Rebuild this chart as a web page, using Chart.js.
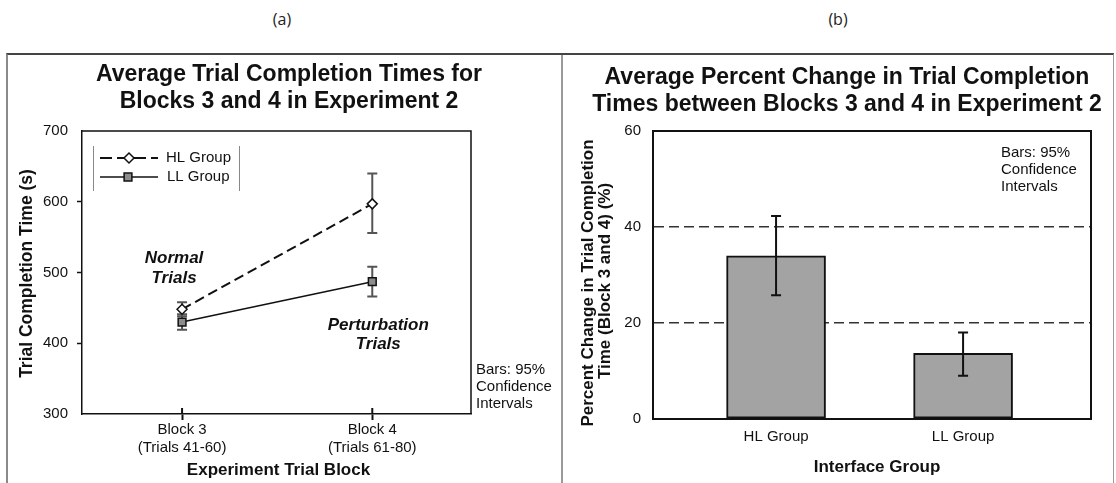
<!DOCTYPE html>
<html>
<head>
<meta charset="utf-8">
<script src="https://cdn.jsdelivr.net/npm/chart.js@4.4.1/dist/chart.umd.min.js"></script>
<style>
  body { margin: 0; background: #fff; width: 1116px; height: 483px; overflow: hidden; position: relative; }
  .tag { position: absolute; top: 8px; width: 40px; margin-left: -20px; text-align: center;
         font: 16px "Open Sans", sans-serif; color: #222; line-height: 22px; }
  #frame { position: absolute; left: 6px; top: 53px; width: 1105px; height: 440px;
           border-top: 2px solid #444; border-left: 2px solid #8a8a8a; border-right: 1px solid #999; }
  #sep { position: absolute; left: 561px; top: 55px; width: 2px; height: 440px; background: #9a9a9a; }
  canvas { position: absolute; }
</style>
</head>
<body>
<div class="tag" style="left:282px">(a)</div>
<div class="tag" style="left:838px">(b)</div>
<div id="frame"></div>
<div id="sep"></div>
<canvas id="times" width="553" height="428" style="left:8px; top:55px"></canvas>
<canvas id="change" width="548" height="428" style="left:564px; top:55px"></canvas>
<script>
// completion times per block (s), with 95% CI
var blockLabels = [['Block 3', '(Trials 41-60)'], ['Block 4', '(Trials 61-80)']];
var blockPos = [1, 2];
var hlTimes = [448, 597];
var hlLow = [438, 556];
var hlHigh = [458, 640];
var llTimes = [430, 487];
var llLow = [419, 466];
var llHigh = [441, 508];
var timeTicks = [300, 400, 500, 600, 700];

// percent change between blocks 3 and 4, with 95% CI
var groupLabels = ['HL Group', 'LL Group'];
var groupPos = [1, 2];
var pctChange = [34.0, 13.7];
var pctLow = [25.8, 9.0];
var pctHigh = [42.3, 18.0];
var pctTicks = [0, 20, 40, 60];

var FONT = '"Liberation Sans", Arial, sans-serif';
var INK = '#111';
Chart.defaults.font.family = FONT;
Chart.defaults.color = INK;

function text(ctx, str, x, y, font, align) {
    ctx.font = font;
    ctx.textAlign = align || 'center';
    ctx.textBaseline = 'middle';
    ctx.fillStyle = INK;
    ctx.fillText(str, x, y);
}

function vtext(ctx, str, x, y, font) {
    ctx.save();
    ctx.translate(x, y);
    ctx.rotate(-Math.PI / 2);
    text(ctx, str, 0, 0, font);
    ctx.restore();
}

function errBars(chart, xs, lows, highs, color, cap) {
    var ctx = chart.ctx, sx = chart.scales.x, sy = chart.scales.y;
    ctx.save();
    ctx.strokeStyle = color;
    ctx.lineWidth = 2;
    xs.forEach(function(v, i) {
        var px = sx.getPixelForValue(v);
        var top = sy.getPixelForValue(highs[i]);
        var bot = sy.getPixelForValue(lows[i]);
        ctx.beginPath();
        ctx.moveTo(px, top); ctx.lineTo(px, bot);
        ctx.moveTo(px - cap, top); ctx.lineTo(px + cap, top);
        ctx.moveTo(px - cap, bot); ctx.lineTo(px + cap, bot);
        ctx.stroke();
    });
    ctx.restore();
}

function boxEdges(chart, w) {
    var ctx = chart.ctx, ca = chart.chartArea;
    ctx.save();
    ctx.strokeStyle = INK;
    ctx.lineWidth = w;
    ctx.beginPath();
    ctx.moveTo(ca.left, ca.top); ctx.lineTo(ca.right, ca.top); ctx.lineTo(ca.right, ca.bottom);
    ctx.stroke();
    ctx.restore();
}

var fixedTicks = function(list) {
    return function(scale) { scale.ticks = list.map(function(v) { return {value: v}; }); };
};

var hlStyle = {pointStyle: 'rectRot', radius: 5, borderWidth: 1.5};
var llStyle = {pointStyle: 'rect', radius: 5.5, borderWidth: 1.5};

// ---- (a) line chart ----
new Chart(document.getElementById('times'), {
    type: 'line',
    data: {
        datasets: [
            {
                label: 'LL Group',
                data: blockPos.map(function(b, i) { return {x: b, y: llTimes[i]}; }),
                borderColor: INK, borderWidth: 1.5,
                pointStyle: llStyle.pointStyle, pointRadius: llStyle.radius,
                pointBackgroundColor: '#8c8c8c', pointBorderColor: INK, pointBorderWidth: 1.5,
                order: 0
            },
            {
                label: 'HL Group',
                data: blockPos.map(function(b, i) { return {x: b, y: hlTimes[i]}; }),
                borderColor: INK, borderWidth: 2, borderDash: [10, 5],
                pointStyle: hlStyle.pointStyle, pointRadius: hlStyle.radius,
                pointBackgroundColor: '#fff', pointBorderColor: INK, pointBorderWidth: 1.5,
                order: 1
            }
        ]
    },
    options: {
        responsive: false, animation: false,
        layout: {padding: {left: 34, right: 90, top: 76, bottom: 19}},
        plugins: {legend: {display: false}, tooltip: {enabled: false}},
        scales: {
            x: {
                type: 'linear', min: 0.474, max: 2.519,
                afterBuildTicks: fixedTicks(blockPos),
                afterFit: function(s) { s.height = 50; },
                ticks: {
                    callback: function(v, i) { return blockLabels[i]; },
                    padding: 1, font: {size: 15}, color: INK, maxRotation: 0, autoSkip: false
                },
                grid: {drawOnChartArea: false, tickLength: 6, tickWidth: 2, tickColor: INK},
                border: {color: INK, width: 1.5}
            },
            y: {
                min: 300, max: 700,
                afterBuildTicks: fixedTicks(timeTicks),
                afterFit: function(s) { s.width = 40; },
                ticks: {padding: 9, font: {size: 15}, color: INK},
                grid: {
                    drawOnChartArea: false, tickLength: 5, tickWidth: 1.5,
                    tickColor: function(c) { return (c.tick.value === 300 || c.tick.value === 700) ? 'transparent' : INK; }
                },
                border: {color: INK, width: 1.5}
            }
        }
    },
    plugins: [{
        id: 'decorA',
        beforeDatasetsDraw: function(chart) {
            errBars(chart, blockPos, hlLow, hlHigh, '#555', 5);
            errBars(chart, blockPos, llLow, llHigh, '#555', 5);
        },
        afterDraw: function(chart) {
            var ctx = chart.ctx, ca = chart.chartArea;
            var sx = chart.scales.x, sy = chart.scales.y;
            boxEdges(chart, 1.5);

            // block ticks cross the axis
            ctx.save();
            ctx.strokeStyle = INK; ctx.lineWidth = 2;
            blockPos.forEach(function(v) {
                var px = sx.getPixelForValue(v);
                ctx.beginPath(); ctx.moveTo(px, ca.bottom); ctx.lineTo(px, ca.bottom - 6); ctx.stroke();
            });
            ctx.restore();

            text(ctx, 'Average Trial Completion Times for', 281, 20, 'bold 23px ' + FONT);
            text(ctx, 'Blocks 3 and 4 in Experiment 2', 281, 47, 'bold 23px ' + FONT);
            vtext(ctx, 'Trial Completion Time (s)', 19, (ca.top + ca.bottom) / 2 + 1, 'bold 17.5px ' + FONT);
            text(ctx, 'Experiment Trial Block', (ca.left + ca.right) / 2 + 2, 415, 'bold 17px ' + FONT);

            var bi = 'italic bold 17px ' + FONT;
            text(ctx, 'Normal', sx.getPixelForValue(1) - 8, sy.getPixelForValue(520), bi);
            text(ctx, 'Trials', sx.getPixelForValue(1) - 8, sy.getPixelForValue(492), bi);
            text(ctx, 'Perturbation', sx.getPixelForValue(2) + 6, sy.getPixelForValue(426), bi);
            text(ctx, 'Trials', sx.getPixelForValue(2) + 6, sy.getPixelForValue(399), bi);

            var rf = '15px ' + FONT;
            text(ctx, 'Bars: 95%', ca.right + 5, 315, rf, 'left');
            text(ctx, 'Confidence', ca.right + 5, 332, rf, 'left');
            text(ctx, 'Intervals', ca.right + 5, 349, rf, 'left');

            // legend
            var lx = ca.left, ly = ca.top;
            ctx.save();
            ctx.strokeStyle = '#888'; ctx.lineWidth = 1;
            ctx.beginPath();
            ctx.moveTo(lx + 11.5, ly + 15); ctx.lineTo(lx + 11.5, ly + 60);
            ctx.moveTo(lx + 157.5, ly + 15); ctx.lineTo(lx + 157.5, ly + 60);
            ctx.stroke();

            ctx.strokeStyle = INK;
            ctx.lineWidth = 2; ctx.setLineDash([12, 5]);
            ctx.beginPath(); ctx.moveTo(lx + 18, ly + 27); ctx.lineTo(lx + 76, ly + 27); ctx.stroke();
            ctx.setLineDash([]); ctx.lineWidth = 1.5;
            ctx.beginPath(); ctx.moveTo(lx + 18, ly + 46); ctx.lineTo(lx + 76, ly + 46); ctx.stroke();

            ctx.fillStyle = '#fff'; ctx.strokeStyle = INK;
            Chart.helpers.drawPoint(ctx, hlStyle, lx + 47, ly + 27);
            ctx.fillStyle = '#8c8c8c';
            Chart.helpers.drawPoint(ctx, llStyle, lx + 46, ly + 46);
            ctx.restore();

            text(ctx, 'HL Group', lx + 84, ly + 27, rf, 'left');
            text(ctx, 'LL Group', lx + 85, ly + 46, rf, 'left');
        }
    }]
});

// ---- (b) bar chart ----
new Chart(document.getElementById('change'), {
    type: 'bar',
    data: {
        datasets: [{
            label: 'Percent change',
            data: groupPos.map(function(g, i) { return {x: g, y: pctChange[i]}; }),
            backgroundColor: '#a3a3a3', borderColor: INK, borderWidth: 2,
            borderSkipped: false, barThickness: 99
        }]
    },
    options: {
        responsive: false, animation: false,
        layout: {padding: {left: 49, right: 21, top: 76, bottom: 14}},
        plugins: {legend: {display: false}, tooltip: {enabled: false}},
        scales: {
            x: {
                type: 'linear', min: 0.342, max: 2.684, offset: false,
                afterBuildTicks: fixedTicks(groupPos),
                afterFit: function(s) { s.height = 50; },
                ticks: {
                    callback: function(v, i) { return groupLabels[i]; },
                    padding: 9, font: {size: 15}, color: INK, maxRotation: 0, autoSkip: false
                },
                grid: {drawOnChartArea: false, drawTicks: false, offset: false},
                border: {color: INK, width: 2}
            },
            y: {
                min: 0, max: 60,
                afterBuildTicks: fixedTicks(pctTicks),
                afterFit: function(s) { s.width = 40; },
                ticks: {padding: 12, font: {size: 15}, color: INK},
                grid: {
                    drawTicks: false, lineWidth: 1.5,
                    color: function(c) { return (c.tick.value === 20 || c.tick.value === 40) ? '#333' : 'transparent'; }
                },
                border: {color: INK, width: 2, dash: [10, 5]}
            }
        }
    },
    plugins: [{
        id: 'decorB',
        afterDatasetsDraw: function(chart) {
            errBars(chart, groupPos, pctLow, pctHigh, INK, 5);
        },
        afterDraw: function(chart) {
            var ctx = chart.ctx;
            boxEdges(chart, 2);
            text(ctx, 'Average Percent Change in Trial Completion', 283, 23, 'bold 23px ' + FONT);
            text(ctx, 'Times between Blocks 3 and 4 in Experiment 2', 283, 50, 'bold 23px ' + FONT);
            vtext(ctx, 'Percent Change in Trial Completion', 24, 228, 'bold 17px ' + FONT);
            vtext(ctx, 'Time (Block 3 and 4) (%)', 41, 226, 'bold 17px ' + FONT);
            text(ctx, 'Interface Group', 313, 412, 'bold 17px ' + FONT);
            var rf = '15px ' + FONT;
            text(ctx, 'Bars: 95%', 437, 98, rf, 'left');
            text(ctx, 'Confidence', 437, 115, rf, 'left');
            text(ctx, 'Intervals', 437, 132, rf, 'left');
        }
    }]
});
</script>
</body>
</html>
